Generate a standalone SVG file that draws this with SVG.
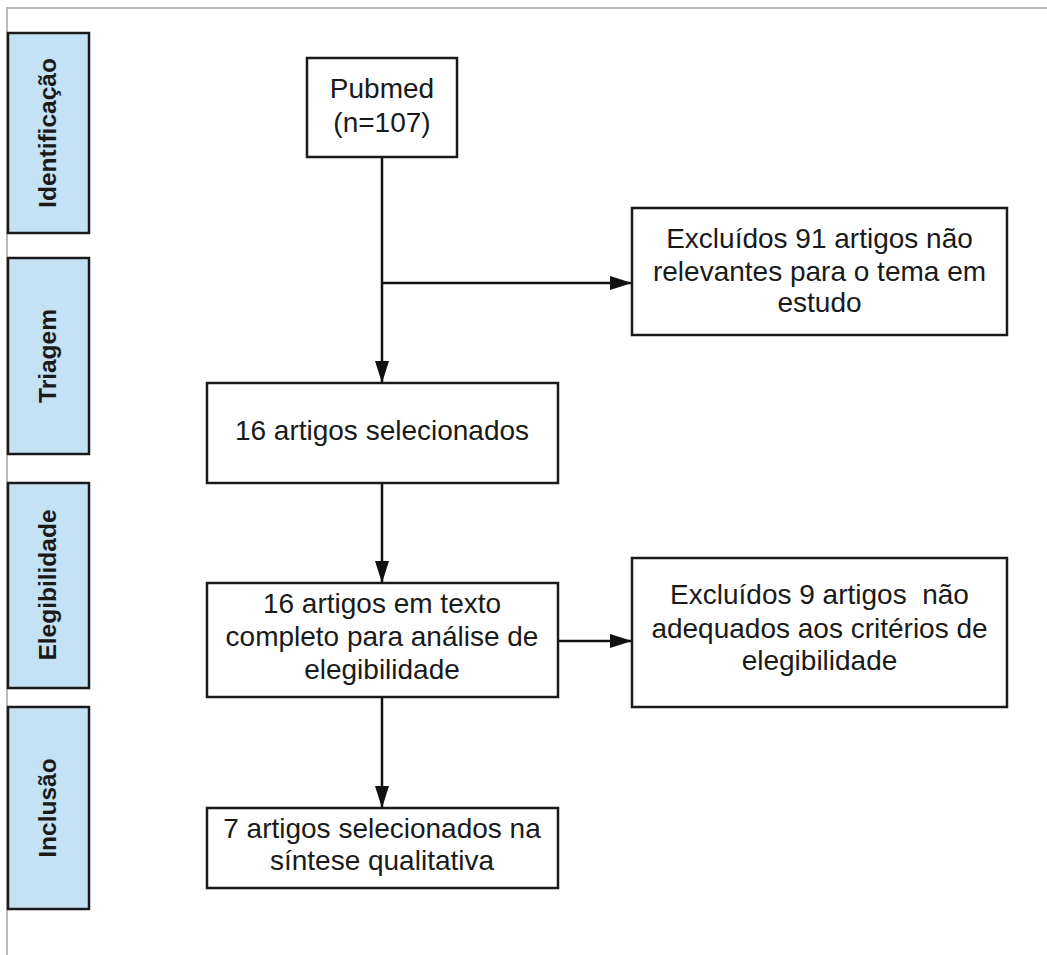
<svg xmlns="http://www.w3.org/2000/svg" width="1047" height="955" viewBox="0 0 1047 955">
<style>
.frame{fill:none;stroke:#bbbbbb;stroke-width:2}
.stage rect{fill:#c4e2f4;stroke:#1a1a1a;stroke-width:2.5}
.stage text{font-family:"Liberation Sans",Arial,sans-serif;font-weight:bold;font-size:24.5px;fill:#1a1a1a;text-anchor:middle}
.box rect{fill:#ffffff;stroke:#1a1a1a;stroke-width:2.5}
.box text{font-family:"Liberation Sans",Arial,sans-serif;font-size:28px;fill:#1a1a1a;text-anchor:middle}
.conn{fill:none;stroke:#111;stroke-width:2.5}
</style>
<defs>
<marker id="arr" viewBox="0 0 22 14" refX="22" refY="7" markerWidth="22" markerHeight="14" markerUnits="userSpaceOnUse" orient="auto">
<path d="M0,0 L22,7 L0,14 Z" fill="#111"/>
</marker>
</defs>
<rect width="1047" height="955" fill="#ffffff"/>
<path class="frame" d="M7,955 L7,8 L1047,8"/>

<g id="stage-identificacao" class="stage">
<rect x="8" y="33" width="81" height="200"/>
<text transform="translate(56,133) rotate(-90)">Identificação</text>
</g>
<g id="stage-triagem" class="stage">
<rect x="8" y="258" width="81" height="196"/>
<text transform="translate(56,356) rotate(-90)">Triagem</text>
</g>
<g id="stage-elegibilidade" class="stage">
<rect x="8" y="483" width="81" height="205"/>
<text transform="translate(56,585) rotate(-90)">Elegibilidade</text>
</g>
<g id="stage-inclusao" class="stage">
<rect x="8" y="707" width="81" height="202"/>
<text transform="translate(56,808) rotate(-90)">Inclusão</text>
</g>

<g id="connectors">
<line class="conn" x1="382" y1="157" x2="382" y2="383" marker-end="url(#arr)"/>
<line class="conn" x1="382" y1="283" x2="632" y2="283" marker-end="url(#arr)"/>
<line class="conn" x1="382" y1="483" x2="382" y2="583" marker-end="url(#arr)"/>
<line class="conn" x1="558" y1="641" x2="632" y2="641" marker-end="url(#arr)"/>
<line class="conn" x1="382" y1="697" x2="382" y2="808" marker-end="url(#arr)"/>
</g>

<g id="pubmed" class="box">
<rect x="307" y="58" width="150" height="99"/>
<text x="382" y="98">Pubmed</text>
<text x="382" y="132">(n=107)</text>
</g>
<g id="excluidos91" class="box">
<rect x="632" y="208" width="375" height="127"/>
<text x="819.5" y="248">Excluídos 91 artigos não</text>
<text x="819.5" y="281">relevantes para o tema em</text>
<text x="819.5" y="312">estudo</text>
</g>
<g id="selecionados16" class="box">
<rect x="207" y="383" width="351" height="100"/>
<text x="382" y="440">16 artigos selecionados</text>
</g>
<g id="textocompleto" class="box">
<rect x="207" y="583" width="351" height="114"/>
<text x="382" y="613">16 artigos em texto</text>
<text x="382" y="646">completo para análise de</text>
<text x="382" y="679">elegibilidade</text>
</g>
<g id="excluidos9" class="box">
<rect x="632" y="558" width="375" height="149"/>
<text x="819.5" y="604" xml:space="preserve">Excluídos 9 artigos  não</text>
<text x="819.5" y="638">adequados aos critérios de</text>
<text x="819.5" y="670">elegibilidade</text>
</g>
<g id="inclusao7" class="box">
<rect x="207" y="808" width="351" height="80"/>
<text x="382" y="838">7 artigos selecionados na</text>
<text x="382" y="870">síntese qualitativa</text>
</g>
</svg>
